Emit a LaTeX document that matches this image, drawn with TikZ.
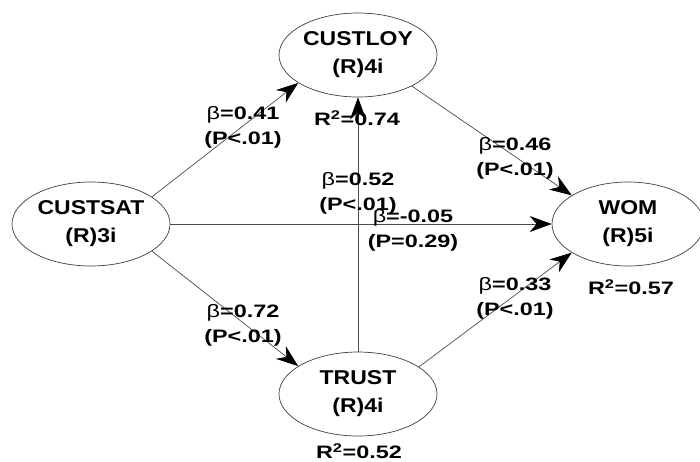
\documentclass[tikz,border=0pt]{standalone}
\usepackage{fontspec}
\setmainfont{Liberation Sans}
\usetikzlibrary{shapes.geometric,arrows.meta}
\newcommand{\wlab}[1]{\scalebox{1.3}[1]{#1}}
\newcommand{\wlat}[1]{\scalebox{1.15}[1]{#1}}
\newcommand{\bet}{{\mdseries β}}
\tikzset{
  latent/.style={ellipse, draw=black!75, line width=0.7pt, minimum width=158pt, minimum height=84pt, inner sep=0pt,
    font=\fontsize{20}{28}\selectfont\bfseries, align=center},
  lab/.style={font=\fontsize{18}{25}\selectfont\bfseries, align=center, inner sep=0pt},
  path/.style={draw=black!70, line width=0.7pt, -{Stealth[length=22pt,width=16pt,inset=7pt,black]}}
}
\begin{document}
\begin{tikzpicture}[x=1pt,y=-1pt]
\useasboundingbox (0,0) rectangle (700,461);
\fill[white] (0,0) rectangle (700,461);
\node[latent] (custsat) at (91,224) {\wlat{CUSTSAT}\\\wlat{(R)3i}};
\node[latent] (custloy) at (358,55) {\wlat{CUSTLOY}\\\wlat{(R)4i}};
\node[latent] (trust) at (358,394) {\wlat{TRUST}\\\wlat{(R)4i}};
\node[latent, minimum width=152pt] (wom) at (628,224) {\wlat{WOM}\\\wlat{(R)5i}};

\draw[path] (custsat.24) -- (custloy.205);
\draw[path] (custloy.330) -- (wom.153);
\draw[path] (custsat.east) -- (wom.west);
\draw[path] (custsat.336) -- (trust.155);
\draw[path] (trust.24) -- (wom.207);
\draw[path] (trust.north) -- (custloy.south);

\node[lab] (l1) at (243,127) {\wlab{\bet=0.41}\\\wlab{(P<.01)}};
\node[lab] (r1) at (357,118) {\wlab{R\textsuperscript{2}=0.74}};
\node[lab] (l2) at (515,158) {\wlab{\bet=0.46}\\\wlab{(P<.01)}};
\node[lab] (l3) at (358,193) {\wlab{\bet=0.52}\\\wlab{(P<.01)}};
\node[lab] (l4) at (413,230) {\wlab{\bet=-0.05}\\\wlab{(P=0.29)}};
\node[lab] (l5) at (243,325) {\wlab{\bet=0.72}\\\wlab{(P<.01)}};
\node[lab] (l6) at (515,298) {\wlab{\bet=0.33}\\\wlab{(P<.01)}};
\node[lab] (r2) at (631,287) {\wlab{R\textsuperscript{2}=0.57}};
\node[lab] (r3) at (359,451) {\wlab{R\textsuperscript{2}=0.52}};
\end{tikzpicture}
\end{document}
